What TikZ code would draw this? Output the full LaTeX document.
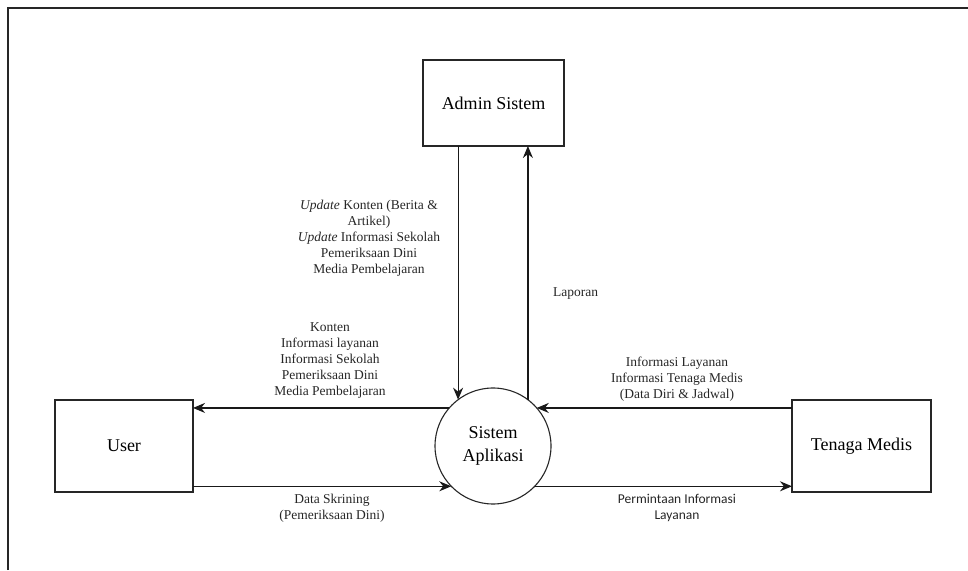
\documentclass[tikz,border=0pt]{standalone}
\usepackage{fontspec}
\setmainfont{LiberationSerif}[Extension=.ttf, UprightFont=*-Regular, ItalicFont=*-Italic, BoldFont=*-Bold, BoldItalicFont=*-BoldItalic]
\newfontfamily\labelsans{Carlito}
\usetikzlibrary{arrows.meta}
\begin{document}
\begin{tikzpicture}[x=1pt,y=1pt,
  entity/.style={draw=black!85, line width=1.3pt, minimum width=#1, outer sep=0pt,
    font=\rmfamily\fontsize{18}{22}\selectfont},
  process/.style={draw=black!85, line width=1.1pt, circle, minimum size=116pt, inner sep=0pt,
    outer sep=0pt, align=center, font=\rmfamily\fontsize{18}{23}\selectfont},
  flow/.style={draw=black!90, line width=1.2pt, -{Stealth[length=12pt,width=10pt]}},
  flowlabel/.style={align=center, font=\rmfamily\fontsize{13.5}{16}\selectfont, text=black!85, inner sep=0pt}
]
\useasboundingbox (0,0) rectangle (968,570);

% frame edges
\draw[line width=2pt, black!85] (8,0) -- (8,562) -- (968,562);

% external entities and the process
\node[entity=141pt, minimum height=86pt] (admin) at (493.5,467) {Admin Sistem};
\node[entity=138pt, minimum height=92pt] (user) at (124,124) {User};
\node[entity=139pt, minimum height=92pt] (medis) at (861.5,124) {Tenaga Medis};
\node[process] (sys) at (493,124) {Sistem\\Aplikasi};

% data flows
\draw[flow] (sys.127 |- admin.south) -- (sys.127);
\draw[flow] (sys.53) -- (sys.53 |- admin.south);
\draw[flow] (sys.139) -- (sys.139 -| user.east);
\draw[flow] (sys.41 -| medis.west) -- (sys.41);
\draw[flow] (sys.224 -| user.east) -- (sys.224);
\draw[flow] (sys.316) -- (sys.316 -| medis.west);

% flow labels
\node[flowlabel] (lbladmin) at (369,332) {\textit{Update} Konten (Berita \&\\Artikel)\\\textit{Update} Informasi Sekolah\\Pemeriksaan Dini\\Media Pembelajaran};
\node[flowlabel, anchor=west] (lbllap) at (553,276) {Laporan};
\node[flowlabel] (lbluser) at (330,209) {Konten\\Informasi layanan\\Informasi Sekolah\\Pemeriksaan Dini\\Media Pembelajaran};
\node[flowlabel] (lblmedis) at (677,191) {Informasi Layanan\\Informasi Tenaga Medis\\(Data Diri \& Jadwal)};
\node[flowlabel] (lblskr) at (332,62) {Data Skrining\\(Pemeriksaan Dini)};
\node[flowlabel, font=\labelsans\fontsize{13.5}{16}\selectfont] (lblminta) at (677,62) {Permintaan Informasi\\Layanan};
\end{tikzpicture}
\end{document}
